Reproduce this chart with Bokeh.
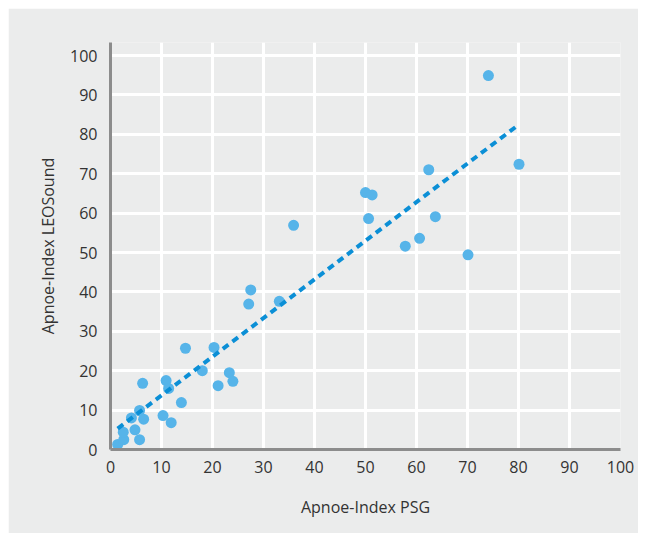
from bokeh.plotting import figure
from bokeh.models import Range1d, FixedTicker, ColumnDataSource, Spacer
from bokeh.layouts import column, row
from bokeh.embed import file_html
from bokeh.resources import INLINE

# Data
psg = [1.4, 2.6, 2.5, 4.1, 4.8, 5.7, 6.5, 5.7, 6.3, 10.3, 10.9, 11.4, 11.9, 13.9,
       14.7, 18.0, 20.3, 21.1, 23.3, 24.0, 27.1, 27.5, 33.1, 35.9, 50.0, 51.3,
       50.6, 57.8, 60.6, 62.4, 63.7, 70.1, 74.1, 80.1]
leosound = [1.3, 2.5, 4.4, 8.0, 5.0, 9.9, 7.7, 2.5, 16.8, 8.6, 17.5, 15.5, 6.8, 11.9,
            25.7, 20.0, 25.9, 16.2, 19.5, 17.3, 36.9, 40.5, 37.6, 56.9, 65.2, 64.6,
            58.6, 51.6, 53.6, 71.0, 59.1, 49.4, 94.9, 72.4]
trend_x = [1.4, 80.0]
trend_y = [5.3, 82.4]
tick_values = [0, 10, 20, 30, 40, 50, 60, 70, 80, 90, 100]

BG = "#ebecec"
FONT = "Open Sans"

p = figure(width=630, height=525, output_backend="svg", toolbar_location=None,
           x_range=Range1d(0, 100), y_range=Range1d(0, 103.3),
           min_border_left=102, min_border_right=18, min_border_top=34,
           min_border_bottom=84)
p.background_fill_color = BG
p.border_fill_color = BG
p.outline_line_color = None

src = ColumnDataSource(dict(x=psg, y=leosound))
p.scatter("x", "y", source=src, size=11, fill_color="#56b4e9", line_color=None)
p.line(trend_x, trend_y, line_color="#0b8fd6", line_width=4, line_dash="7 5")

for ax in (p.xaxis[0], p.yaxis[0]):
    ax.ticker = FixedTicker(ticks=tick_values)
    ax.axis_line_color = "#8c8c8c"
    ax.axis_line_width = 3
    ax.major_tick_line_color = None
    ax.minor_tick_line_color = None
    ax.major_tick_out = 0
    ax.major_tick_in = 0
    ax.major_label_text_font = FONT
    ax.major_label_text_font_size = "16px"
    ax.major_label_text_color = "#333333"
    ax.axis_label_text_font = FONT
    ax.axis_label_text_font_size = "16px"
    ax.axis_label_text_font_style = "normal"
    ax.axis_label_text_color = "#333333"

p.xaxis.axis_label = "Apnoe-Index PSG"
p.yaxis.axis_label = "Apnoe-Index LEOSound"
p.xaxis.major_label_standoff = 11
p.yaxis.major_label_standoff = 13
p.xaxis.axis_label_standoff = 20
p.yaxis.axis_label_standoff = 8

p.xgrid.ticker = FixedTicker(ticks=tick_values)
p.ygrid.ticker = FixedTicker(ticks=tick_values)
p.grid.grid_line_color = "white"
p.grid.grid_line_width = 3

layout = column(Spacer(height=8), row(Spacer(width=8), p))

open("out.html", "w").write(file_html(layout, INLINE))
